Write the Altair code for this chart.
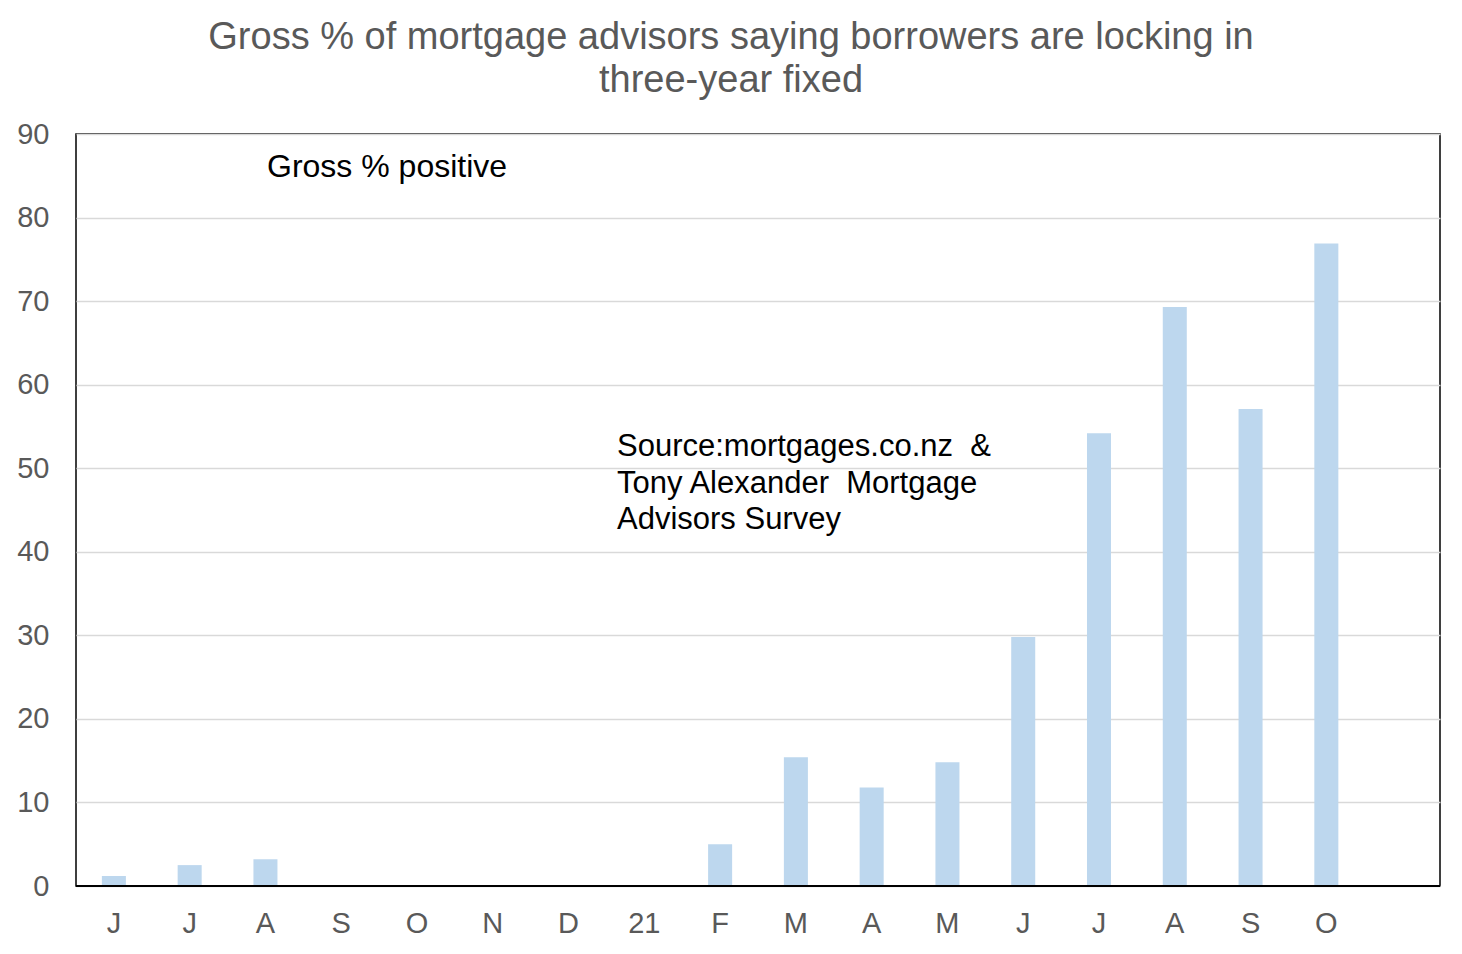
import altair as alt
import pandas as pd

labels = ["J", "J", "A", "S", "O", "N", "D", "21", "F", "M", "A", "M", "J", "J", "A", "S", "O", ""]
values = [1.2, 2.5, 3.2, 0, 0, 0, 0, 0, 5.0, 15.4, 11.8, 14.8, 29.8, 54.2, 69.3, 57.1, 76.9, None]

df = pd.DataFrame({"i": list(range(len(labels))), "label": labels, "value": values})

label_expr = "[" + ",".join("'" + l + "'" for l in labels) + "][datum.value]"

FONT = "Liberation Sans"

bars = alt.Chart(df).mark_bar(color="#BDD7EE").encode(
    x=alt.X("i:O", title=None,
            scale=alt.Scale(domain=list(range(len(labels))), paddingInner=0.683, paddingOuter=0.3415),
            axis=alt.Axis(labelExpr=label_expr, labelAngle=0, ticks=False, domain=False,
                          labelPadding=23, labelFontSize=29, labelColor="#595959",
                          labelFont=FONT)),
    y=alt.Y("value:Q", title=None,
            scale=alt.Scale(domain=[0, 90], nice=False),
            axis=alt.Axis(values=list(range(0, 91, 10)), ticks=False, domain=False,
                          labelPadding=27, labelFontSize=29, labelColor="#595959",
                          labelFont=FONT, gridColor="#D9D9D9", gridWidth=1.5)),
)

base_line = alt.Chart(pd.DataFrame({"y": [0]})).mark_rule(color="#000000", strokeWidth=2).encode(
    y="y:Q"
)

note1 = alt.Chart(pd.DataFrame({"t": ["Gross % positive"]})).mark_text(
    align="left", baseline="alphabetic", fontSize=32, font=FONT, color="#000000"
).encode(text="t:N", x=alt.value(191), y=alt.value(43))

source_text = "Source:mortgages.co.nz\u00a0 &\nTony Alexander\u00a0 Mortgage\nAdvisors Survey"

note2 = alt.Chart(pd.DataFrame({"t": [source_text]})).mark_text(
    align="left", baseline="alphabetic", fontSize=31, font=FONT, color="#000000",
    lineBreak="\n", lineHeight=36.5
).encode(text="t:N", x=alt.value(541), y=alt.value(322))

chart = alt.layer(bars, base_line, note1, note2).properties(
    width=1364, height=752,
    background="#FFFFFF",
    title=alt.TitleParams(
        ["Gross % of mortgage advisors saying borrowers are locking in", "three-year fixed"],
        fontSize=38, font=FONT, color="#595959", fontWeight="normal",
        anchor="middle", dx=-27, lineHeight=43, offset=20
    ),
    autosize=alt.AutoSizeParams(type="none"),
    padding={"left": 68, "top": 126, "right": 14, "bottom": 60},
).configure_view(stroke="#000000", strokeWidth=1.5)

chart.save("out.html", embed_options={"renderer": "svg", "actions": False})
